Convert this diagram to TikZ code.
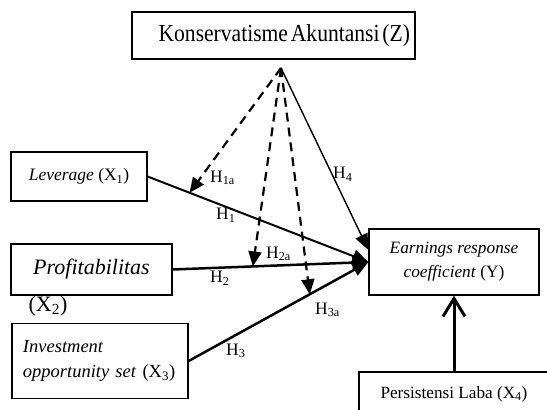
\documentclass[tikz,border=0pt]{standalone}
\usepackage{fontspec}
\setmainfont{Liberation Serif}
\usepackage{graphicx}
\usetikzlibrary{arrows.meta,calc}

\begin{document}
\begin{tikzpicture}[x=1pt, y=-1pt,
  varnode/.style={draw, line width=1.2pt, inner sep=0pt, align=center},
  mainedge/.style={-{Triangle[length=16pt,width=13pt]}, line width=2.2pt},
  modedge/.style={-{Triangle[length=15pt,width=13pt]}, line width=2.2pt,
    dash pattern=on 9pt off 6pt},
  hlabel/.style={anchor=west, inner sep=0pt, font=\fontsize{17.5}{20}\selectfont}
]
\useasboundingbox (0,0) rectangle (547,410);
% ---------------- variables ----------------
\node[varnode, minimum width=283pt, minimum height=47pt, text width=273pt,
  align=right] (kons) at (273.5,35.5)
  {\fontsize{24.5}{28}\selectfont\scalebox{0.88}[1]{Konservatisme Akuntansi (Z)}};
\node[varnode, minimum width=136pt, minimum height=49pt,
  font=\fontsize{17.5}{21}\selectfont] (lev) at (79,176.5)
  {\textit{Leverage} (X\textsubscript{1})};
\node[varnode, minimum width=161pt, minimum height=51pt,
  font=\fontsize{22}{26}\selectfont] (prof) at (91.5,269.5) {\textit{Profitabilitas}};
\node[inner sep=0pt, font=\fontsize{22}{26}\selectfont] (profx) at (48,306)
  {(X\textsubscript{2})};
\node[varnode, minimum width=176pt, minimum height=75pt, text width=154pt,
  align=left, font=\fontsize{18.5}{25}\selectfont] (ios) at (100,361)
  {\textit{Investment}\\\textit{opportunity set} (X\textsubscript{3})};
\node[varnode, minimum width=170pt, minimum height=66pt,
  font=\fontsize{17.3}{24}\selectfont] (erc) at (454,262)
  {\textit{Earnings response}\\\textit{coefficient} (Y)};
\node[varnode, minimum width=190pt, minimum height=44pt,
  font=\fontsize{17.2}{20}\selectfont] (pers) at (454,394)
  {Persistensi Laba (X\textsubscript{4})};
% ---------------- moderation points ----------------
\coordinate (apex) at (281,68);
\coordinate (t1a) at ($(lev.east)!0.19!(erc.west)$);
\coordinate (t2a) at ($(prof.east)!0.41!(erc.west)$);
\coordinate (t3a) at ($(ios.east)!0.674!(erc.west)$);
% ---------------- direct effects ----------------
\draw[mainedge, line width=2pt] (lev.east) -- (erc.west);
\draw[mainedge, line width=2.5pt] (prof.east) -- (erc.west);
\draw[mainedge, line width=2.5pt] (ios.east) -- (erc.west);
\draw[mainedge, line width=1.4pt] (apex) -- ($(erc.west)+(0,-12)$);
\draw[line width=3pt, -{Straight Barb[length=18pt,width=22pt]}] (pers.north) -- (erc.south);
% ---------------- moderating effects ----------------
\draw[modedge] (apex) -- (t1a);
\draw[modedge] (apex) -- (t2a);
\draw[modedge] (apex) -- (t3a);
% ---------------- hypothesis labels ----------------
\node[hlabel] (h1a) at (210,178) {H\textsubscript{1a}};
\node[hlabel] (h1) at (216,215) {H\textsubscript{1}};
\node[hlabel] (h2a) at (266,254) {H\textsubscript{2a}};
\node[hlabel] (h2) at (210,278) {H\textsubscript{2}};
\node[hlabel] (h3a) at (315,310) {H\textsubscript{3a}};
\node[hlabel] (h3) at (226,351) {H\textsubscript{3}};
\node[hlabel] (h4) at (333,174) {H\textsubscript{4}};
\end{tikzpicture}
\end{document}
